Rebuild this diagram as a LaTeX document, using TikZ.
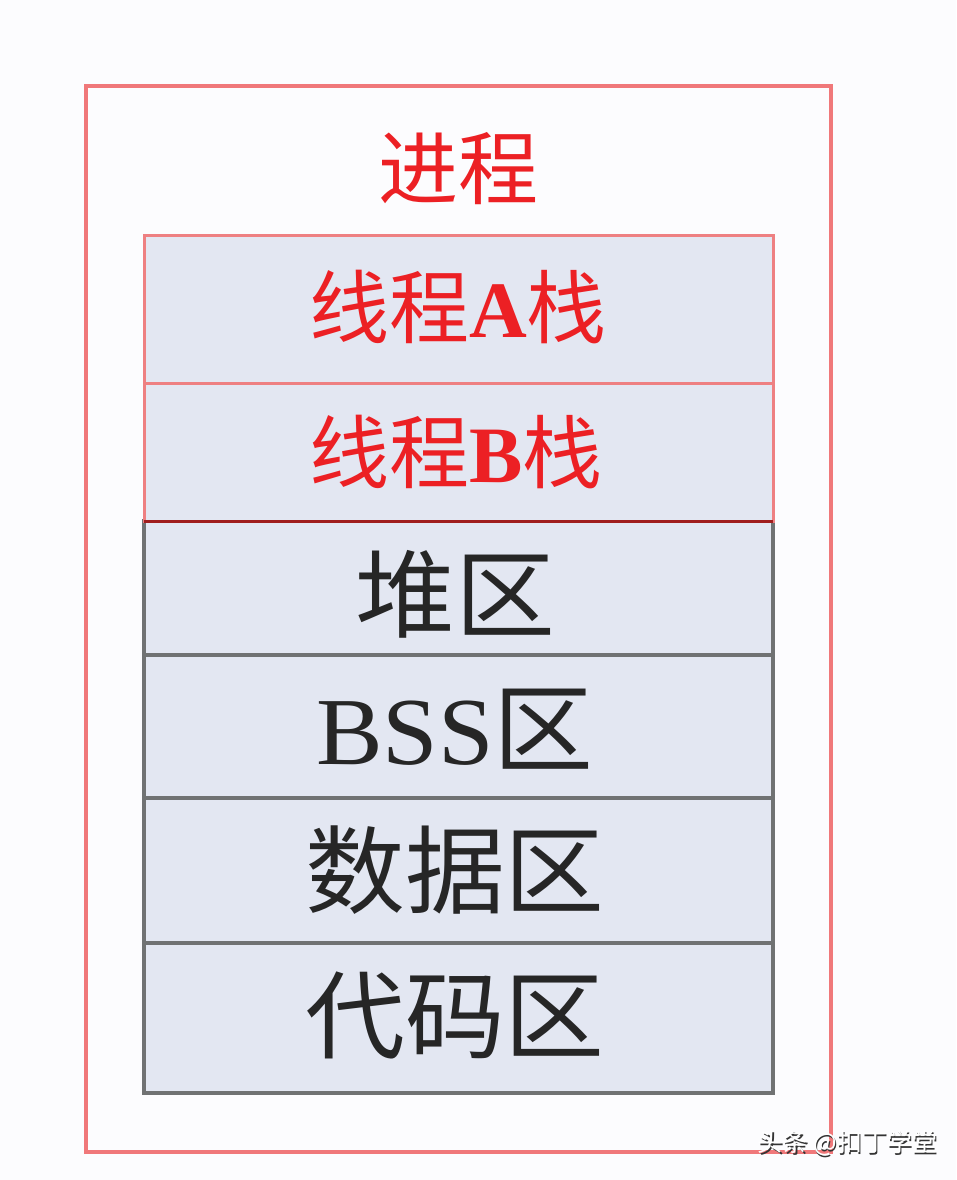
\documentclass[tikz,border=0pt]{standalone}
\usepackage{fontspec}
\newfontfamily\cjk{Noto Sans CJK SC}
\newfontfamily\lat{Liberation Serif}
\definecolor{bgc}{RGB}{252,252,254}
\definecolor{framered}{RGB}{240,120,122}
\definecolor{stackred}{RGB}{238,128,130}
\definecolor{darkred}{RGB}{160,30,30}
\definecolor{txtred}{RGB}{236,32,36}
\definecolor{rowfill}{RGB}{227,231,242}
\definecolor{rowgray}{RGB}{112,114,115}
\tikzset{
  redrow/.style={draw=stackred, line width=3pt, fill=rowfill},
  grayrow/.style={draw=rowgray, line width=3.5pt, fill=rowfill},
  redtxt/.style={anchor=base, inner sep=0pt, text=txtred, font=\fontsize{80}{80}\selectfont\cjk},
  blacktxt/.style={anchor=base, inner sep=0pt, text=black!85, xscale=1.04, font=\fontsize{96}{96}\selectfont\cjk},
  wm/.style={anchor=center, inner sep=0pt, font=\fontsize{25}{25}\selectfont\cjk}
}
\begin{document}
\begin{tikzpicture}[x=1pt,y=-1pt]
\fill[bgc] (0,0) rectangle (956,1180);
\useasboundingbox (0,0) rectangle (956,1180);
% outer frame
\draw[framered, line width=3.5pt] (86,86) rectangle (831,1152);
% gray rows
\draw[grayrow] (144,521) rectangle (773,655);
\draw[grayrow] (144,655) rectangle (773,798);
\draw[grayrow] (144,798) rectangle (773,943);
\draw[grayrow] (144,943) rectangle (773,1093);
% red rows
\draw[redrow] (144,235) rectangle (773,383);
\draw[redrow] (144,383) rectangle (773,521);
\draw[darkred, line width=3pt] (144,521) -- (773,521);
% texts
\node[redtxt] (title) at (458,198) {进程};
\node[redtxt] (ta) at (458,337) {线程{\lat\bfseries A}栈};
\node[redtxt] (tb) at (456,482) {线程{\lat\bfseries B}栈};
\node[blacktxt] (heap) at (455,630) {堆区};
\node[blacktxt] (bss) at (455,764) {{\lat BSS}区};
\node[blacktxt] (data) at (455,906) {数据区};
\node[blacktxt] (code) at (455,1051) {代码区};
% watermark
\node[wm, text=black!80] (wms) at (849,1145) {头条 @扣丁学堂};
\node[wm, text=white] (wmt) at (847.5,1143.5) {头条 @扣丁学堂};
\end{tikzpicture}
\end{document}
